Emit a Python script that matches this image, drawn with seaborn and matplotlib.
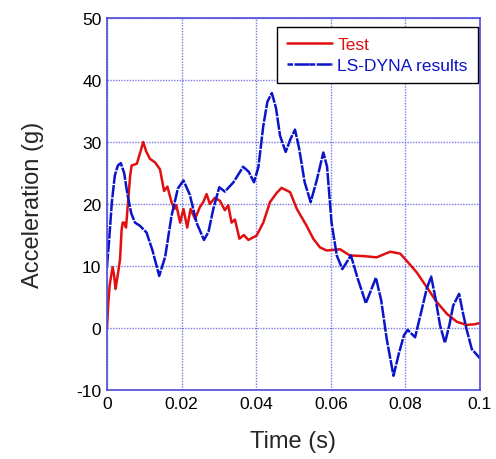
import matplotlib
matplotlib.use("Agg")
import matplotlib.pyplot as plt
import seaborn as sns
import pandas as pd

# Test curve (time s, acceleration g)
test_t = [0.0, 0.0003, 0.0007, 0.001, 0.0015, 0.0019, 0.0023, 0.0026, 0.003, 0.0035, 0.0039,
          0.0042, 0.0046, 0.0051, 0.0057, 0.0062, 0.0066, 0.008, 0.009, 0.0097, 0.0105, 0.0115,
          0.0129, 0.0142, 0.0153, 0.0162, 0.0173, 0.0181, 0.0186, 0.0196, 0.0205, 0.0215, 0.0224,
          0.0236, 0.0249, 0.0258, 0.0267, 0.0276, 0.0289, 0.0303, 0.0316, 0.0325, 0.0334, 0.0343,
          0.0355, 0.0367, 0.0379, 0.0401, 0.0419, 0.0437, 0.0455, 0.0468, 0.0491, 0.0509, 0.0535,
          0.0553, 0.0571, 0.0589, 0.0607, 0.0625, 0.0651, 0.0687, 0.0723, 0.0759, 0.0786, 0.0804,
          0.083, 0.0857, 0.0884, 0.0911, 0.0938, 0.0964, 0.0985, 0.1]
test_a = [0.0, 3.6, 6.8, 8.0, 9.8, 8.5, 6.3, 7.5, 9.0, 11.1, 15.7,
          17.0, 17.0, 16.2, 20.8, 24.5, 26.2, 26.5, 28.5, 30.0, 28.5, 27.3,
          26.7, 25.6, 22.1, 22.8, 20.3, 19.2, 19.8, 17.0, 19.2, 16.2, 19.2,
          17.6, 19.5, 20.3, 21.6, 20.0, 21.0, 20.5, 19.0, 19.8, 17.0, 17.5,
          14.4, 15.0, 14.2, 14.9, 17.0, 20.3, 21.8, 22.6, 21.9, 19.2, 16.5,
          14.4, 13.0, 12.5, 12.6, 12.7, 11.7, 11.6, 11.4, 12.3, 12.0, 10.8,
          9.0, 6.6, 4.2, 2.3, 1.0, 0.5, 0.6, 0.8]

# LS-DYNA curve
dyna_t = [0.0, 0.0006, 0.0013, 0.0021, 0.0029, 0.0037, 0.0046, 0.0055, 0.0065, 0.0075, 0.0088,
          0.0106, 0.0122, 0.0140, 0.0156, 0.0173, 0.0190, 0.0205, 0.0222, 0.0240, 0.0260, 0.0272,
          0.0285, 0.0301, 0.0316, 0.0339, 0.0365, 0.0380, 0.0394, 0.0406, 0.0419, 0.0430, 0.0442,
          0.0453, 0.0464, 0.0479, 0.0492, 0.0504, 0.0515, 0.0530, 0.0546, 0.0563, 0.0580, 0.0590,
          0.0602, 0.0616, 0.0631, 0.0654, 0.0672, 0.0694, 0.0721, 0.0735, 0.0750, 0.0768, 0.0783,
          0.0796, 0.0806, 0.0826, 0.0842, 0.0857, 0.0869, 0.0880, 0.0893, 0.0906, 0.0918, 0.0928,
          0.0944, 0.0954, 0.0964, 0.0978, 0.1]
dyna_a = [10.0, 14.4, 20.3, 24.6, 26.2, 26.6, 25.0, 21.5, 18.5, 17.0, 16.5,
          15.4, 12.5, 8.4, 11.5, 18.1, 22.5, 23.8, 21.5, 17.0, 14.2, 15.5,
          19.2, 22.7, 22.0, 23.5, 26.0, 25.2, 23.5, 26.0, 32.6, 36.5, 37.9,
          35.5, 31.0, 28.4, 30.5, 32.0, 29.0, 23.5, 20.3, 24.0, 28.3, 26.0,
          17.0, 11.7, 9.5, 11.7, 8.0, 4.0, 8.1, 4.5, -1.8, -7.7, -4.0,
          -1.2, -0.3, -1.5, 2.5, 6.3, 8.3, 5.0, 0.4, -2.4, 0.5, 3.6,
          5.5, 2.5, -0.2, -3.4, -4.9]

x_ticks = [0, 0.02, 0.04, 0.06, 0.08, 0.1]
x_tick_labels = ["0", "0.02", "0.04", "0.06", "0.08", "0.1"]
y_ticks = [-10, 0, 10, 20, 30, 40, 50]

df_test = pd.DataFrame({"t": test_t, "a": test_a})
df_dyna = pd.DataFrame({"t": dyna_t, "a": dyna_a})

sns.set_style("white")
plt.rcParams["font.family"] = ["Liberation Sans", "DejaVu Sans"]
plt.rcParams["axes.unicode_minus"] = False

fig = plt.figure(figsize=(4.96, 4.6), dpi=100)
ax = fig.add_axes([107/496, 1 - 391/460, (480-107)/496, (391-19)/460])

frame_blue = "#4b4bd8"
sns.lineplot(data=df_test, x="t", y="a", ax=ax, color="#e01010", linewidth=1.8,
             label="Test", sort=False, estimator=None)
sns.lineplot(data=df_dyna, x="t", y="a", ax=ax, color="#0a14c8", linewidth=1.8,
             label="LS-DYNA results", sort=False, estimator=None)
ax.lines[1].set_linestyle((0, (5, 0.5)))

ax.set_xlim(0, 0.1)
ax.set_ylim(-10, 50)
ax.set_xticks(x_ticks)
ax.set_xticklabels(x_tick_labels)
ax.set_yticks(y_ticks)
ax.tick_params(axis="both", direction="in", length=4, color=frame_blue, labelsize=12.5,
               labelcolor="black", pad=4)
for s in ax.spines.values():
    s.set_color(frame_blue)
    s.set_linewidth(1.2)
ax.grid(True, color="#4a4ae0", linestyle=(0, (1, 1)), linewidth=1.0, alpha=0.75)

ax.set_xlabel("Time (s)", fontsize=17, labelpad=14)
ax.set_ylabel("Acceleration (g)", fontsize=17, labelpad=23)

leg = ax.legend(loc="upper right", bbox_to_anchor=(0.995, 0.976), fontsize=12.5,
                frameon=True, fancybox=False, edgecolor="black", framealpha=1,
                handlelength=2.6, borderpad=0.6, labelspacing=0.3, handletextpad=0.3,
                borderaxespad=0.0, labelcolor="linecolor")
leg.get_frame().set_linewidth(1.0)
leg.get_lines()[1].set_linestyle((0, (2.2, 0.6, 6, 0.1)))

fig.savefig("out.png", dpi=100)
